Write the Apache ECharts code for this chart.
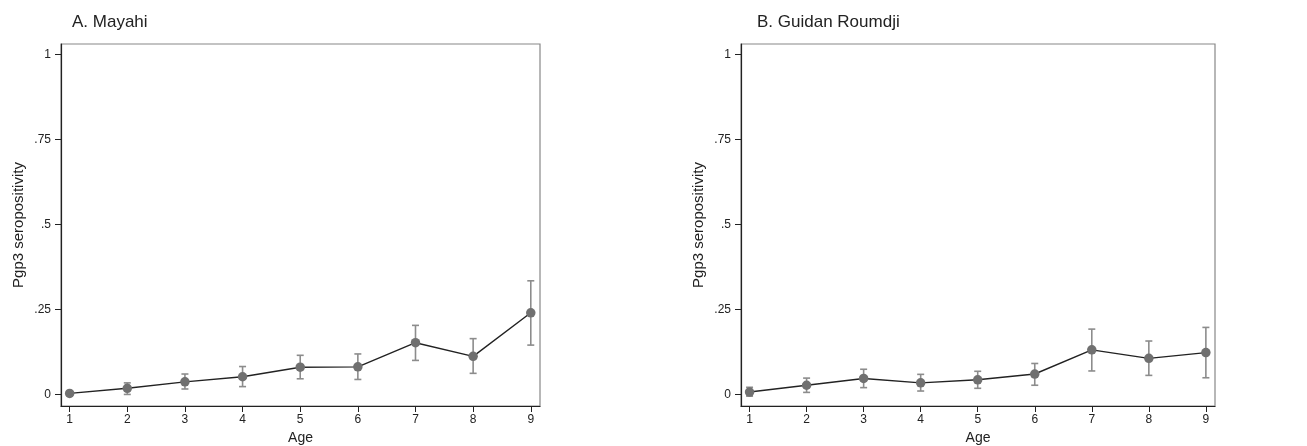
<!DOCTYPE html>
<html>
<head>
<meta charset="utf-8">
<script src="https://cdn.jsdelivr.net/npm/echarts@6/dist/echarts.min.js"></script>
<style>
html, body { margin: 0; padding: 0; background: #fff; }
#chart { width: 1307px; height: 446px; }
</style>
</head>
<body>
<div id="chart"></div>
<script>
// ages on x axis
const ages = [1, 2, 3, 4, 5, 6, 7, 8, 9]
const yTicks = [0, 0.25, 0.5, 0.75, 1]

// A. Mayahi - estimate and 95% CI
const mayahiEst = [0.003, 0.018, 0.037, 0.052, 0.080, 0.081, 0.152, 0.112, 0.240]
const mayahiLo = [-0.003, 0.000, 0.016, 0.023, 0.046, 0.044, 0.100, 0.062, 0.145]
const mayahiHi = [0.009, 0.034, 0.060, 0.082, 0.115, 0.119, 0.203, 0.164, 0.334]

// B. Guidan Roumdji
const guidanEst = [0.007, 0.027, 0.047, 0.034, 0.043, 0.060, 0.131, 0.106, 0.123]
const guidanLo = [-0.005, 0.006, 0.020, 0.010, 0.018, 0.027, 0.069, 0.056, 0.049]
const guidanHi = [0.021, 0.048, 0.074, 0.059, 0.068, 0.091, 0.192, 0.157, 0.197]

const font = 'Liberation Sans, Arial, sans-serif'

function fmtTick (v) {
  if (v === 0) return '0'
  if (v === 1) return '1'
  return String(v).replace(/^0/, '')
}

function xAxis (idx) {
  return {
    type: 'value',
    gridIndex: idx,
    min: 0.85,
    max: 9.16,
    name: 'Age',
    nameLocation: 'middle',
    nameGap: 25,
    nameTextStyle: { fontFamily: font, fontSize: 14, color: '#222' },
    splitLine: { show: false },
    axisLine: { show: true, onZero: false, lineStyle: { color: '#222', width: 1.2 } },
    axisTick: { show: true, length: 6, customValues: ages, lineStyle: { color: '#222' } },
    axisLabel: { customValues: ages, margin: 8, fontFamily: font, fontSize: 12, color: '#222' }
  }
}

function yAxis (idx) {
  return {
    type: 'value',
    gridIndex: idx,
    min: -0.034,
    max: 1.03,
    name: 'Pgp3 seropositivity',
    nameLocation: 'middle',
    nameGap: 35,
    nameTextStyle: { fontFamily: font, fontSize: 15, color: '#222' },
    splitLine: { show: false },
    axisLine: { show: true, onZero: false, lineStyle: { color: '#222', width: 1.2 } },
    axisTick: { show: true, length: 6, customValues: yTicks, lineStyle: { color: '#222' } },
    axisLabel: { customValues: yTicks, margin: 10, fontFamily: font, fontSize: 12, color: '#222', formatter: fmtTick }
  }
}

// vertical CI bars with small caps, placed through the axes
function errorBars (idx, lo, hi) {
  return {
    type: 'custom',
    xAxisIndex: idx,
    yAxisIndex: idx,
    z: 1,
    data: ages.map((a, i) => [a, lo[i], hi[i]]),
    renderItem (params, api) {
      const top = api.coord([api.value(0), api.value(2)])
      const bot = api.coord([api.value(0), api.value(1)])
      const w = 3.5
      const style = { stroke: '#8c8c8c', lineWidth: 1.6 }
      return {
        type: 'group',
        children: [
          { type: 'line', shape: { x1: top[0], y1: top[1], x2: bot[0], y2: bot[1] }, style },
          { type: 'line', shape: { x1: top[0] - w, y1: top[1], x2: top[0] + w, y2: top[1] }, style },
          { type: 'line', shape: { x1: bot[0] - w, y1: bot[1], x2: bot[0] + w, y2: bot[1] }, style }
        ]
      }
    }
  }
}

function pointLine (idx, est) {
  return {
    type: 'line',
    xAxisIndex: idx,
    yAxisIndex: idx,
    z: 2,
    data: ages.map((a, i) => [a, est[i]]),
    symbol: 'circle',
    symbolSize: 9.5,
    itemStyle: { color: '#707070' },
    lineStyle: { color: '#222', width: 1.4 }
  }
}

const myChart = echarts.init(document.getElementById('chart'))
const option = {
  animation: false,
  title: [
    { text: 'A. Mayahi', left: 67, top: 9, textStyle: { fontFamily: font, fontSize: 17, fontWeight: 'normal', color: '#222' } },
    { text: 'B. Guidan Roumdji', left: 752, top: 9, textStyle: { fontFamily: font, fontSize: 17, fontWeight: 'normal', color: '#222' } }
  ],
  grid: [
    { left: 61, right: 767, top: 44, bottom: 40, outerBoundsMode: 'none', containLabel: false, show: true, borderColor: '#888', borderWidth: 1.2 },
    { left: 741, right: 92, top: 44, bottom: 40, outerBoundsMode: 'none', containLabel: false, show: true, borderColor: '#888', borderWidth: 1.2 }
  ],
  xAxis: [xAxis(0), xAxis(1)],
  yAxis: [yAxis(0), yAxis(1)],
  series: [
    errorBars(0, mayahiLo, mayahiHi),
    pointLine(0, mayahiEst),
    errorBars(1, guidanLo, guidanHi),
    pointLine(1, guidanEst)
  ]
}
myChart.setOption(option)
</script>
</body>
</html>
